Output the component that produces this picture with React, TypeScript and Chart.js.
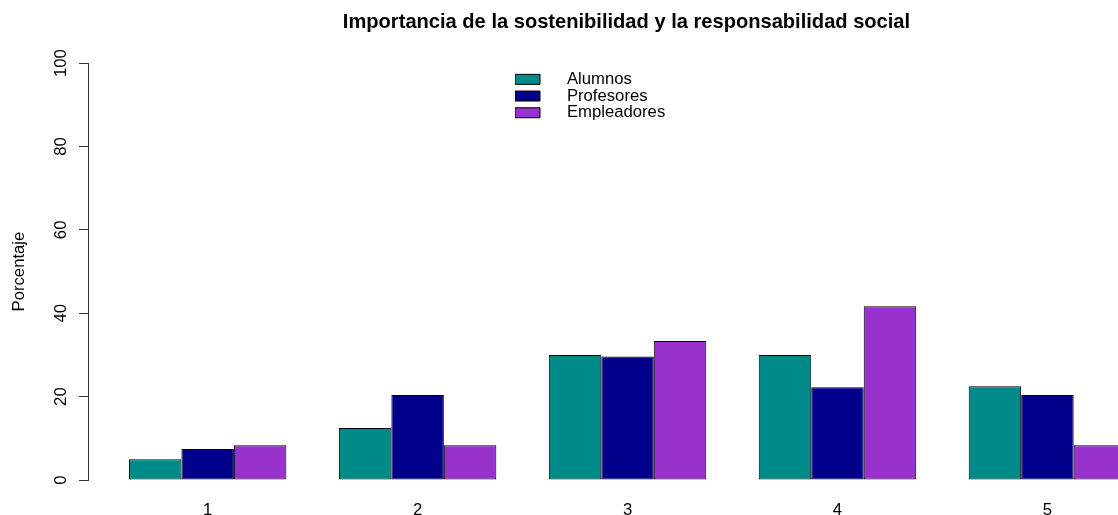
import React, { useEffect, useRef } from 'react';
import { Chart, registerables } from 'chart.js';

Chart.register(...registerables);

const chartTitle = 'Importancia de la sostenibilidad y la responsabilidad social';
const yAxisTitle = 'Porcentaje';
const categories = ['1', '2', '3', '4', '5'];
const groupCenters = [2.5, 6.5, 10.5, 14.5, 18.5];
const seriesNames = ['Alumnos', 'Profesores', 'Empleadores'];
const seriesColors = ['#008B8B', '#00008B', '#9932CC'];
const alumnos = [5, 12.5, 30, 30, 22.5];
const profesores = [7.41, 20.37, 29.63, 22.22, 20.37];
const empleadores = [8.33, 8.33, 33.33, 41.67, 8.33];
const yTicks = [0, 20, 40, 60, 80, 100];

const FONT = "'Liberation Sans', Arial, Helvetica, sans-serif";

const legendPlacer = {
  id: 'legendPlacer',
  afterLayout(chart: any) {
    const l = chart.legend;
    if (!l) return;
    const w = l.width;
    const h = chart.chartArea.bottom - chart.chartArea.top;
    l.left = 515;
    l.top = 71;
    l.right = l.left + w;
    l.bottom = l.top + h;
  },
};

export default function App() {
  const ref = useRef<HTMLCanvasElement | null>(null);

  useEffect(() => {
    if (!ref.current) return;
    const series = [alumnos, profesores, empleadores];
    const font = { family: FONT, size: 16.7 };
    const chart = new Chart(ref.current, {
      type: 'bar',
      data: {
        datasets: series.map((vals, k) => ({
          label: seriesNames[k],
          data: vals.map((v, i) => ({ x: groupCenters[i], y: v })),
          backgroundColor: seriesColors[k],
          borderColor: '#000',
          borderWidth: 1,
          borderSkipped: false,
          barPercentage: 1,
          categoryPercentage: 0.75,
        })),
      },
      options: {
        responsive: false,
        animation: false,
        devicePixelRatio: 1,
        layout: { padding: { left: 0, right: 5, top: 0, bottom: 0 } },
        plugins: {
          tooltip: { enabled: false },
          title: {
            display: true,
            text: chartTitle,
            fullSize: false,
            color: '#000',
            font: { family: FONT, size: 20.1, weight: 'bold' },
            padding: { top: 10, bottom: 29 },
          },
          legend: {
            position: 'chartArea',
            align: 'start',
            labels: {
              boxWidth: 25,
              boxHeight: 10,
              padding: 0,
              color: '#000',
              font,
              generateLabels: (c: any) =>
                Chart.defaults.plugins.legend.labels
                  .generateLabels(c)
                  .map((it: any) => ({ ...it, text: '    ' + it.text })),
            },
          },
        },
        scales: {
          x: {
            type: 'linear',
            min: 0.22,
            max: 20.74,
            offset: false,
            grid: { display: false, drawTicks: false },
            border: { display: false },
            afterBuildTicks: (s: any) => {
              s.ticks = groupCenters.map((v) => ({ value: v }));
            },
            ticks: {
              autoSkip: false,
              maxRotation: 0,
              minRotation: 0,
              padding: 20,
              color: '#000',
              font,
              callback: (_v: any, i: number) => categories[i],
            },
            afterFit: (s: any) => {
              s.height = 35;
            },
          },
          y: {
            min: 0,
            max: 100,
            afterBuildTicks: (s: any) => {
              s.ticks = yTicks.map((v) => ({ value: v }));
            },
            grid: { drawOnChartArea: false, drawTicks: true, tickLength: 9, color: '#333' },
            border: { display: true, color: '#333' },
            ticks: {
              minRotation: 90,
              maxRotation: 90,
              crossAlign: 'center',
              padding: 4,
              color: '#000',
              font,
            },
            title: {
              display: true,
              text: yAxisTitle,
              color: '#000',
              font,
              padding: { top: 9, bottom: 0 },
            },
            afterFit: (s: any) => {
              s.width = 88;
            },
          },
        },
      },
      plugins: [legendPlacer],
    } as any);
    return () => chart.destroy();
  }, []);

  return (
    <div
      style={{
        position: 'fixed',
        left: 0,
        top: 0,
        width: 1118,
        height: 515,
        overflow: 'hidden',
        background: '#fff',
      }}
    >
      <canvas ref={ref} width={1170} height={515} style={{ display: 'block' }} />
    </div>
  );
}
